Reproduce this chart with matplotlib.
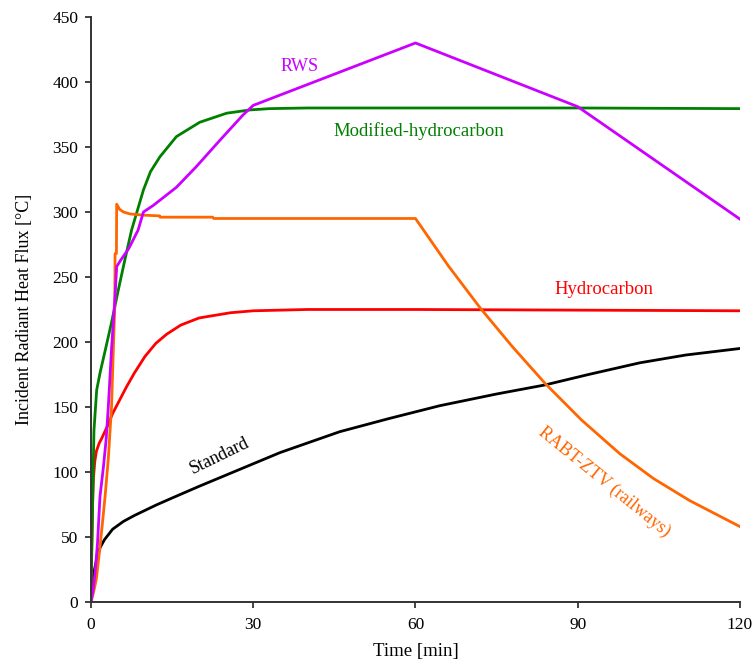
import matplotlib
matplotlib.use("Agg")
import matplotlib.pyplot as plt

plt.rcParams["font.family"] = ["Liberation Serif", "DejaVu Serif"]

# ---- data (time in min, flux) ----
std_t = [0, 0.2, 0.5, 1, 1.7, 2.5, 4, 6, 8, 10, 12, 15, 20, 27.5, 35, 46,
         55, 64.5, 75, 84, 92, 101.5, 110, 120]
std_v = [0, 12, 22, 32, 42, 48, 56, 62, 66.5, 70.5, 74.5, 80, 89, 102, 115, 131,
         141, 151, 160, 167, 175, 184, 190, 195]

hc_t = [0, 0.15, 0.3, 0.45, 0.7, 1.0, 1.5, 2.0, 3.0, 4, 5, 6.5, 8, 10, 12,
        14, 16.6, 20, 25.8, 30, 40, 60, 90, 120]
hc_v = [0, 40, 75, 95, 108, 116, 122, 126, 135, 145, 153, 165, 176, 189, 199,
        206, 213, 218.5, 222.5, 224, 225, 225, 224.5, 224]

mhc_t = [0, 0.1, 0.25, 0.55, 1.05, 1.66, 2.6, 3.8, 5.05, 6.2, 7.5, 9.7, 11,
         12.75, 15.8, 20.1, 25.1, 29.4, 33, 40, 60, 90, 120]
mhc_v = [0, 35, 68, 132, 163, 176, 193, 215, 240, 262, 286, 317, 331,
         342.5, 358, 369, 376, 378.5, 379.5, 380, 380, 380, 379.5]

rws_t = [0, 0.4, 0.74, 1.2, 1.66, 2.3, 2.8, 3.2, 3.8, 4.4, 4.75, 5.5, 7,
         8.7, 9.7, 11.5, 15.8, 19.5, 23.8, 28.1, 30, 60, 90, 120]
rws_v = [0, 10, 22, 45, 81, 104, 125, 150, 195, 232, 258, 263, 272,
         286, 300, 305, 319, 335, 355, 374.6, 382, 430, 381, 294.5]

rabt_t = [0, 0.5, 1, 1.6, 2.1, 2.6, 3.2, 3.8, 4.1, 4.4, 4.45, 4.7, 4.75,
          5.3, 6, 7.2, 10, 12.7, 12.8, 22.5, 22.7, 60, 66, 72, 78, 84,
          90.7, 97.8, 104, 110.7, 120]
rabt_v = [0, 8, 18, 40, 60, 81, 110, 150, 190, 228, 268, 268, 306,
          302, 300, 298.5, 297.5, 297, 296, 296, 295, 295, 259, 226, 196, 168,
          140, 114, 95, 78, 58]

x_ticks = [0, 30, 60, 90, 120]
y_ticks = list(range(0, 451, 50))

BLACK = "#000000"
RED = "#FF0000"
GREEN = "#008000"
MAGENTA = "#CC00FF"
ORANGE = "#FF6600"

fig = plt.figure(figsize=(7.52, 6.63), dpi=100)
ax = fig.add_axes([0.121, 0.092, 0.863, 0.8824])

lw = 2.0
ax.plot(std_t, std_v, color=BLACK, lw=lw)
ax.plot(hc_t, hc_v, color=RED, lw=lw)
ax.plot(mhc_t, mhc_v, color=GREEN, lw=lw)
ax.plot(rabt_t, rabt_v, color=ORANGE, lw=lw)
ax.plot(rws_t, rws_v, color=MAGENTA, lw=lw)

ax.set_xlim(0, 120)
ax.set_ylim(0, 450)
ax.set_xticks(x_ticks)
ax.set_yticks(y_ticks)
ax.tick_params(direction="out", length=4, width=1.2, labelsize=12.5,
               colors="#222222", labelcolor="black")
ax.tick_params(axis="x", pad=7)
ax.tick_params(axis="y", pad=5)
for side in ("top", "right"):
    ax.spines[side].set_visible(False)
for side in ("left", "bottom"):
    ax.spines[side].set_linewidth(1.4)
    ax.spines[side].set_color("#333333")

ax.set_xlabel("Time [min]", fontsize=13.5, labelpad=7)
ax.set_ylabel("Incident Radiant Heat Flux [°C]", fontsize=13, labelpad=14)

# curve labels
ax.text(38.6, 412, "RWS", color=MAGENTA, fontsize=13, ha="center", va="center")
ax.text(60.7, 362, "Modified-hydrocarbon", color=GREEN, fontsize=13.5,
        ha="center", va="center")
ax.text(94.8, 240, "Hydrocarbon", color=RED, fontsize=13.5, ha="center", va="center")
ax.text(23.8, 112, "Standard", color=BLACK, fontsize=13, rotation=26,
        ha="center", va="center", rotation_mode="anchor")
ax.text(94.9, 92, "RABT-ZTV (railways)", color=ORANGE, fontsize=13,
        rotation=-39, ha="center", va="center", rotation_mode="anchor")

fig.savefig("out.png", dpi=100)
